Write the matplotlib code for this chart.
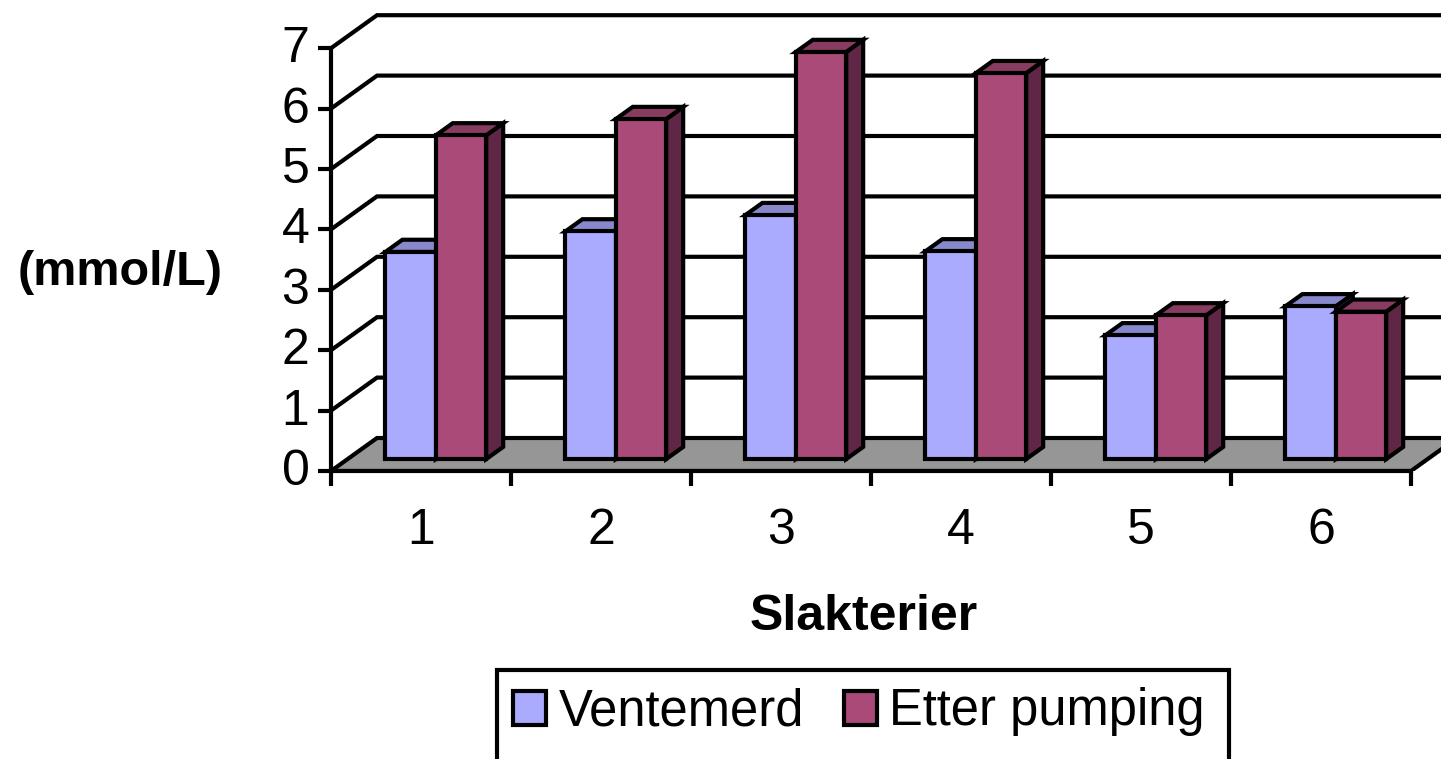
import numpy as np
import matplotlib
matplotlib.use("Agg")
import matplotlib.pyplot as plt
import matplotlib.transforms as mtransforms
from matplotlib.patches import Rectangle, Polygon, Patch

# data
categories = ["1", "2", "3", "4", "5", "6"]
series_names = ["Ventemerd", "Etter pumping"]
ventemerd = [3.43, 3.77, 4.04, 3.44, 2.05, 2.53]
etter_pumping = [5.36, 5.63, 6.74, 6.39, 2.38, 2.44]
y_ticks = [0, 1, 2, 3, 4, 5, 6, 7]

# colours (front, top, side) like the old Excel 3D chart
blue = ("#AAAAFF", "#8888CC", "#7777BB")
red = ("#A94A78", "#883C60", "#602645")
floor_col = "#969696"

plt.rcParams["font.family"] = ["Liberation Sans", "DejaVu Sans"]
lw = 3.0

W, H = 1441, 759
fig = plt.figure(figsize=(W / 100, H / 100), dpi=100)
# axes from the front-left corner of the floor to the right/top edge
ax = fig.add_axes([331 / W, (H - 471) / H, (W - 331) / W, 471 / H])
ax.set_xlim(0, (W - 331) / 180)
ax.set_ylim(0, 471 / 60.4)
ax.patch.set_visible(False)

n = len(categories)
DX, DY = 46 / 180, 33 / 60.4      # full depth of the box (in data units)
f0, f1 = 0.36, 0.73               # bars sit between these depth fractions
bw = 0.28
xfar = 7.0

# back wall gridlines
for v in y_ticks[1:]:
    ax.plot([0, DX, xfar], [v, v + DY, v + DY], color="black", lw=lw,
            solid_joinstyle="miter", zorder=1, clip_on=True)

# floor
ax.add_patch(Polygon([[0, 0], [n, 0], [n + DX, DY], [DX, DY]], closed=True,
                     facecolor=floor_col, edgecolor="black", lw=lw,
                     joinstyle="miter", zorder=2))

# 3D bars, drawn left to right
z = 3
for i in range(n):
    for s, (vals, cols) in enumerate([(ventemerd, blue), (etter_pumping, red)]):
        h = vals[i]
        x0 = i + 0.49 - bw + s * bw + DX * f0
        y0 = DY * f0
        ddx, ddy = DX * (f1 - f0), DY * (f1 - f0)
        side = [[x0 + bw, y0], [x0 + bw + ddx, y0 + ddy],
                [x0 + bw + ddx, y0 + h + ddy], [x0 + bw, y0 + h]]
        top = [[x0, y0 + h], [x0 + bw, y0 + h],
               [x0 + bw + ddx, y0 + h + ddy], [x0 + ddx, y0 + h + ddy]]
        ax.add_patch(Polygon(side, closed=True, facecolor=cols[2],
                             edgecolor="black", lw=lw, joinstyle="miter", zorder=z))
        ax.add_patch(Polygon(top, closed=True, facecolor=cols[1],
                             edgecolor="black", lw=lw, joinstyle="miter", zorder=z))
        ax.add_patch(Rectangle((x0, y0), bw, h, facecolor=cols[0],
                               edgecolor="black", lw=lw, joinstyle="miter", zorder=z + 0.5))
        z += 1

# axes: left spine = value axis, bottom spine = category axis
for side_name in ["top", "right"]:
    ax.spines[side_name].set_visible(False)
ax.spines["left"].set_bounds(0, 7)
ax.spines["bottom"].set_bounds(0, n)
for sp in ["left", "bottom"]:
    ax.spines[sp].set_linewidth(lw)
    ax.spines[sp].set_zorder(50)

ax.set_yticks(y_ticks)
ax.set_yticklabels([str(t) for t in y_ticks], fontsize=36)
ax.tick_params(axis="y", direction="out", length=9.5, width=lw, pad=6)
shift = mtransforms.ScaledTranslation(0, 4 / 100, fig.dpi_scale_trans)
for lab in ax.get_yticklabels():
    lab.set_transform(lab.get_transform() + shift)

ax.set_xticks(np.arange(n + 1))
ax.set_xticklabels([])
ax.set_xticks(np.arange(n) + 0.5, minor=True)
ax.set_xticklabels(categories, minor=True, fontsize=36)
ax.tick_params(axis="x", which="major", direction="out", length=11, width=lw)
ax.tick_params(axis="x", which="minor", length=0, pad=27)

ax.set_ylabel("(mmol/L)", fontsize=35, fontweight="bold", rotation=0,
              ha="center", va="center")
ax.yaxis.set_label_coords(-0.19, 0.4225)
ax.set_xlabel("Slakterier", fontsize=36, fontweight="bold", va="center")
ax.xaxis.set_label_coords(0.48, -0.31)

# legend
handles = [Patch(facecolor=blue[0], edgecolor="black", lw=lw),
           Patch(facecolor=red[0], edgecolor="black", lw=lw)]
fig.legend(handles, series_names, ncol=2, frameon=False, fontsize=36.5,
           loc="center", bbox_to_anchor=(859 / W, 1 - 712 / H),
           handlelength=0.64, handleheight=0.66, handletextpad=0.25,
           columnspacing=0.8, borderaxespad=0)
fig.patches.append(Rectangle((497 / W, -0.1), (1229 - 497) / W, (H - 670) / H + 0.1,
                             transform=fig.transFigure, fill=False,
                             edgecolor="black", lw=lw))

fig.savefig("out.png", dpi=100)
